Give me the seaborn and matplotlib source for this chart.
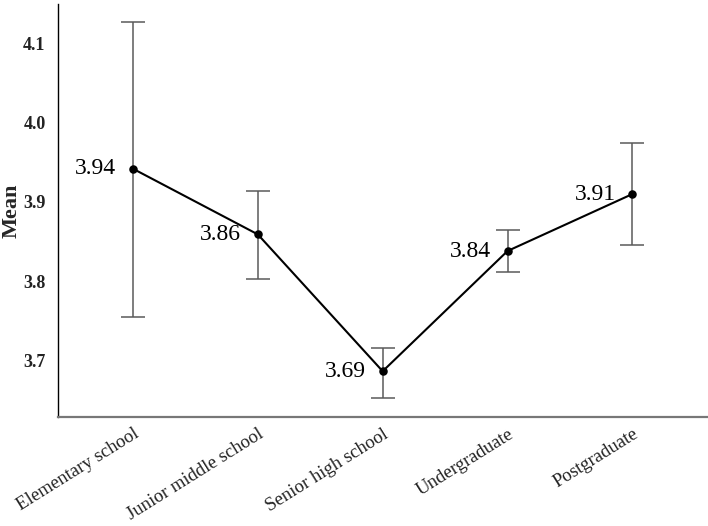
import matplotlib
matplotlib.use("Agg")
import matplotlib.pyplot as plt
import seaborn as sns
import pandas as pd
import numpy as np

categories = ["Elementary school", "Junior middle school", "Senior high school",
              "Undergraduate", "Postgraduate"]
means = [3.942, 3.859, 3.686, 3.838, 3.910]
ci_low = [3.755, 3.803, 3.652, 3.811, 3.846]
ci_high = [4.127, 3.914, 3.715, 3.864, 3.974]
y_ticks = [3.7, 3.8, 3.9, 4.0, 4.1]

sns.set_style("white")
plt.rcParams["font.family"] = ["Liberation Serif", "DejaVu Serif"]

df = pd.DataFrame({"level": categories, "mean": means})

fig = plt.figure(figsize=(7.08, 5.26), dpi=100)
ax = fig.add_axes([0.082, 0.207, 0.917, 0.785])

x = np.arange(len(categories))
yerr = [np.array(means) - np.array(ci_low), np.array(ci_high) - np.array(means)]
ax.errorbar(x, means, yerr=yerr, fmt="none", ecolor="#5a5a5a", elinewidth=1.1,
            capsize=8.5, capthick=1.1, zorder=1)

sns.pointplot(data=df, x="level", y="mean", color="black", errorbar=None,
              markers="o", markersize=5, linewidth=1.5, ax=ax, zorder=3)

for xi, m in zip(x, means):
    ax.annotate(f"{m:.2f}", xy=(xi, m), xytext=(-12, 0), textcoords="offset points",
                ha="right", va="center", fontsize=17, color="black")

ax.set_xlim(-0.6, 4.6)
ax.set_ylim(3.628, 4.15)
ax.set_yticks(y_ticks)
ax.set_yticklabels([f"{t:.1f}" for t in y_ticks], fontweight="bold", fontsize=13, color="#222222")
ax.tick_params(axis="both", length=0)
ax.tick_params(axis="y", pad=9)
ax.set_xticks(x)
ax.set_xticklabels(categories, rotation=32, ha="right", rotation_mode="anchor",
                   fontsize=13.5, color="#222222")
ax.tick_params(axis="x", pad=6)
ax.set_xlabel("")
ax.set_ylabel("Mean", fontweight="bold", fontsize=16)
ax.yaxis.label.set_va("center")
ax.yaxis.set_label_coords(-0.072, 0.5)

for s in ["top", "right"]:
    ax.spines[s].set_visible(False)
ax.spines["left"].set_color("black")
ax.spines["left"].set_linewidth(1.0)
ax.spines["bottom"].set_color("#777777")
ax.spines["bottom"].set_linewidth(1.6)

fig.savefig("out.png", dpi=100)
